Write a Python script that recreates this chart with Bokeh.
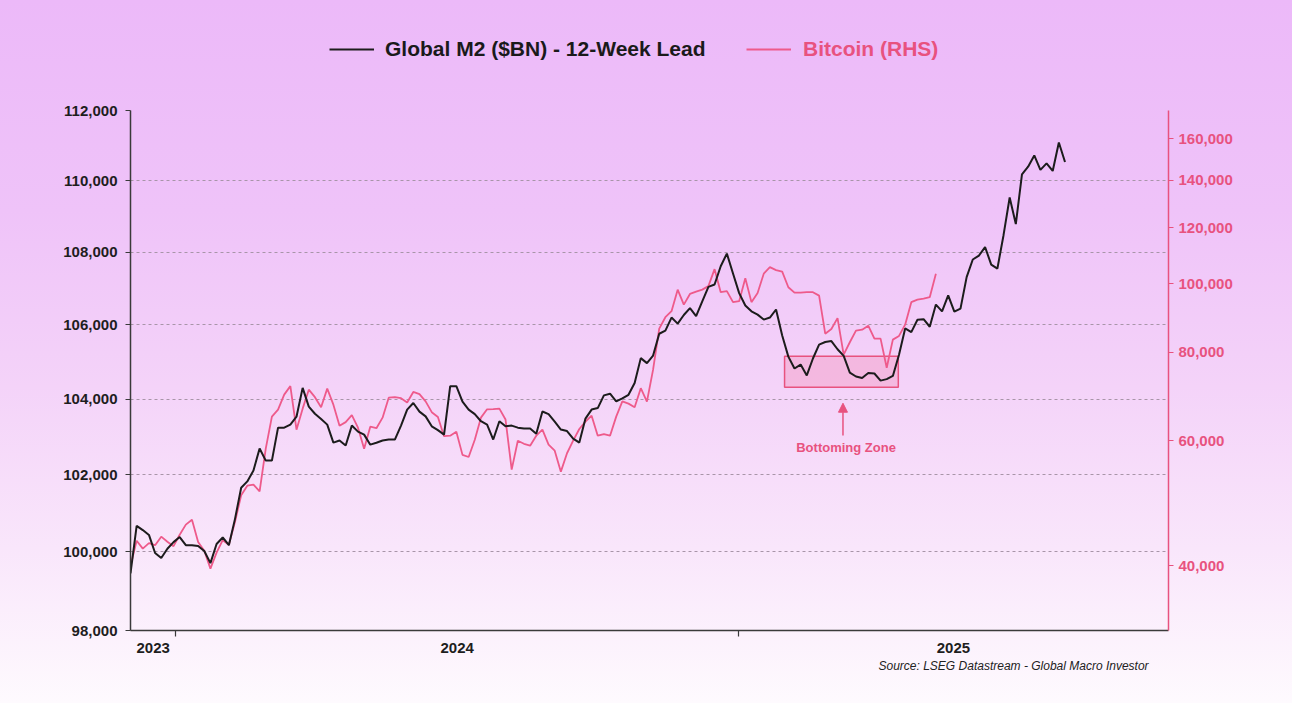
import pandas as pd
from bokeh.plotting import figure
from bokeh.layouts import column
from bokeh.models import (Range1d, LogScale, LogAxis, FixedTicker, NumeralTickFormatter,
                          Label, Arrow, NormalHead, ColumnDataSource, Legend, LegendItem,
                          Title)
from bokeh.embed import file_html
from bokeh.resources import INLINE

# ---------------- data ----------------
series_start = "2023-12-02 11:00"
series_step = "4D"

# Global M2 ($BN), shifted 12 weeks ahead
m2_values = [
    99450, 100670, 100560, 100435, 99970, 99840, 100080, 100250, 100380, 100170,
    100170, 100150, 100020, 99710, 100200, 100370, 100170, 100850, 101660, 101825,
    102110, 102690, 102370, 102370, 103240, 103240, 103320, 103530, 104300, 103800,
    103610, 103470, 103320, 102845, 102900, 102770, 103295, 103135, 103055, 102790,
    102840, 102900, 102925, 102925, 103295, 103720, 103895, 103665, 103540, 103275,
    103175, 103055, 104345, 104345, 103930, 103720, 103600, 103410, 103320, 102925,
    103410, 103275, 103295, 103240, 103215, 103215, 103080, 103670, 103600, 103400,
    103190, 103150, 102950, 102845, 103480, 103720, 103760, 104100, 104145, 103940,
    104020, 104115, 104430, 105100, 104965, 105170, 105760, 105845, 106200, 106035,
    106270, 106460, 106240, 106645, 107040, 107105, 107610, 107960, 107410, 106870,
    106530, 106370, 106280, 106145, 106200, 106420, 105710, 105140, 104820, 104925,
    104635, 105090, 105465, 105535, 105560, 105340, 105160, 104710, 104605, 104565,
    104700, 104685, 104495, 104535, 104620, 105190, 105905, 105805, 106140, 106155,
    105950, 106555, 106370, 106805, 106360, 106445, 107310, 107795, 107905, 108140,
    107655, 107545, 108470, 109525, 108780, 110180, 110395, 110715, 110305, 110490,
    110275, 111085, 110530,
]

# Bitcoin (USD, right-hand log scale)
btc_values = [
    40000, 43390, 42280, 43040, 42760, 43960, 43250, 42620, 44230, 45710,
    46450, 43200, 42000, 39620, 41730, 43460, 42830, 46140, 50300, 51880,
    52050, 50930, 58510, 64920, 66410, 69730, 71680, 62230, 66630, 70860,
    69160, 66950, 71100, 67500, 63040, 63770, 65230, 62640, 58510, 62840,
    62530, 64710, 69050, 69160, 68940, 67980, 70340, 69840, 68230, 65870,
    64850, 60930, 61030, 61830, 57340, 56940, 60240, 64710, 66480, 66510,
    66630, 64310, 54650, 60040, 59440, 59080, 61030, 62230, 59270, 58130,
    54300, 57640, 60040, 62370, 63870, 65120, 61030, 61330, 61030, 64920,
    68230, 67720, 66930, 71210, 68160, 75620, 86390, 89670, 91450, 98070,
    93410, 96710, 97430, 98070, 99190, 104820, 97270, 97590, 94170, 94470,
    101800, 94170, 97020, 103300, 105500, 104480, 103970, 98840, 97120, 97120,
    97310, 97270, 96180, 84990, 86290, 89390, 79400, 82670, 85840, 86120,
    87240, 83640, 83640, 76110, 83370, 84380, 87530, 94170, 94930, 95240,
    95710, 103300,
]

left_ticks = [98000, 100000, 102000, 104000, 106000, 108000, 110000, 112000]
right_ticks = [40000, 60000, 80000, 100000, 120000, 140000, 160000]
year_labels = ["2023", "2024", "2025"]
year_starts = ["2024-01-01", "2025-01-01"]

x_start = "2023-12-02 11:00"
x_end = "2025-10-07 19:00"

zone_start = "2025-01-31"
zone_end = "2025-04-15"
zone_low = 104320
zone_high = 105150

# --------------------------------------------------------------------------
def ms(s):
    return int(pd.Timestamp(s).value // 10**6)

m2_dates = pd.date_range(series_start, periods=len(m2_values), freq=series_step)
btc_dates = pd.date_range(series_start, periods=len(btc_values), freq=series_step)

BLACK = "#1c1c1c"
PINK = "#e8527f"
PINK_LINE = "#ee5a8b"
AXIS = "#3a3a3a"
FONT = "Liberation Sans"
W = 1292
TOP_H = 100

xs, xe = ms(x_start), ms(x_end)
bounds = [xs] + [ms(d) for d in year_starts] + [xe]
mids = [(bounds[i] + bounds[i + 1]) // 2 for i in range(len(bounds) - 1)]

# ---------------- legend strip (top) ----------------
top = figure(width=W, height=TOP_H, output_backend="svg", toolbar_location=None,
             x_range=Range1d(0, 1), y_range=Range1d(0, 1),
             min_border=0, min_border_left=0, min_border_right=0,
             min_border_top=0, min_border_bottom=0)
top.axis.visible = False
top.grid.visible = False
top.outline_line_color = None
top.background_fill_alpha = 0
top.border_fill_alpha = 0

# placeholder renderers (no visible points) that only feed the legend swatches
nan = float("nan")
leg_m2 = top.line(x=[nan], y=[nan], line_color=BLACK, line_width=2)
leg_btc = top.line(x=[nan], y=[nan], line_color=PINK_LINE, line_width=2)

def add_legend(label, rend, color, loc, standoff):
    lg = Legend(items=[LegendItem(label=label, renderers=[rend])], location=loc,
                orientation="horizontal", padding=0, margin=0, spacing=0,
                background_fill_alpha=0, border_line_color=None,
                glyph_width=45, glyph_height=20, label_height=20,
                label_standoff=standoff,
                label_text_font=FONT, label_text_font_style="bold",
                label_text_font_size="21px", label_text_color=color)
    top.add_layout(lg)

add_legend("Global M2 ($BN) - 12-Week Lead", leg_m2, "#1a1a1a", (199, 39), 11)
add_legend("Bitcoin (RHS)", leg_btc, PINK, (616, 39), 12)

# ---------------- main chart ----------------
p = figure(width=W, height=703 - TOP_H, output_backend="svg", toolbar_location=None,
           y_axis_type="log",
           x_range=Range1d(xs, xe), y_range=Range1d(left_ticks[0], left_ticks[-1]),
           min_border_left=130, min_border_right=124,
           min_border_top=10, min_border_bottom=73)

p.background_fill_alpha = 0
p.border_fill_alpha = 0
p.outline_line_color = None

p.extra_y_ranges = {"btc": Range1d(32410, 175500)}
p.extra_y_scales = {"btc": LogScale()}

p.xgrid.visible = False
p.ygrid.grid_line_color = "#a895a8"
p.ygrid.grid_line_dash = "3 3"
p.ygrid.grid_line_width = 1

p.yaxis.ticker = FixedTicker(ticks=left_ticks)
p.yaxis.formatter = NumeralTickFormatter(format="0,0")
p.yaxis.axis_line_color = AXIS
p.yaxis.axis_line_width = 1.5
p.yaxis.major_tick_line_color = AXIS
p.yaxis.major_tick_in = 0
p.yaxis.major_tick_out = 5
p.yaxis.minor_tick_line_color = None
p.yaxis.major_label_standoff = 8
p.yaxis.major_label_text_font = FONT
p.yaxis.major_label_text_font_style = "bold"
p.yaxis.major_label_text_font_size = "15px"
p.yaxis.major_label_text_color = "#1e1e1e"

p.xaxis.ticker = FixedTicker(ticks=mids, minor_ticks=bounds[1:-1])
p.xaxis.major_label_overrides = {m: lab for m, lab in zip(mids, year_labels)}
p.xaxis.axis_line_color = AXIS
p.xaxis.axis_line_width = 1.5
p.xaxis.major_tick_line_color = None
p.xaxis.major_tick_out = 5
p.xaxis.major_tick_in = 0
p.xaxis.minor_tick_line_color = AXIS
p.xaxis.minor_tick_line_width = 1.2
p.xaxis.minor_tick_in = 0
p.xaxis.minor_tick_out = 6
p.xaxis.major_label_standoff = 6
p.xaxis.major_label_text_font = FONT
p.xaxis.major_label_text_font_style = "bold"
p.xaxis.major_label_text_font_size = "15px"
p.xaxis.major_label_text_color = "#1e1e1e"

raxis = LogAxis(y_range_name="btc", ticker=FixedTicker(ticks=right_ticks),
                formatter=NumeralTickFormatter(format="0,0"))
raxis.axis_line_color = PINK
raxis.axis_line_width = 1.5
raxis.major_tick_line_color = PINK
raxis.major_tick_in = 0
raxis.major_tick_out = 5
raxis.minor_tick_line_color = None
raxis.major_label_standoff = 5
raxis.major_label_text_font = FONT
raxis.major_label_text_font_style = "bold"
raxis.major_label_text_font_size = "15px"
raxis.major_label_text_color = PINK
p.add_layout(raxis, "right")

# source note under the x axis
p.add_layout(Title(text="Source: LSEG Datastream - Global Macro Investor",
                   align="left", offset=748, standoff=2,
                   text_font=FONT, text_font_style="italic", text_font_size="12px",
                   text_color="#222222"), "below")

# bottoming zone box
p.quad(left=[ms(zone_start)], right=[ms(zone_end)], bottom=[zone_low], top=[zone_high],
       fill_color="#f39ac2", fill_alpha=0.45, line_color=PINK, line_width=1.5)

btc_src = ColumnDataSource(dict(date=btc_dates, value=btc_values))
m2_src = ColumnDataSource(dict(date=m2_dates, value=m2_values))

p.line("date", "value", source=btc_src, y_range_name="btc",
       line_color=PINK_LINE, line_width=1.8)
p.line("date", "value", source=m2_src, line_color=BLACK, line_width=2)

arrow_x = ms("2025-03-10")
p.add_layout(Arrow(end=NormalHead(size=9, fill_color=PINK, line_color=PINK),
                   x_start=arrow_x, y_start=103032, x_end=arrow_x, y_end=103890,
                   line_color=PINK, line_width=1.5))
p.add_layout(Label(x=ms("2025-03-12"), y=102715, text="Bottoming Zone",
                   text_align="center", text_baseline="middle",
                   text_font=FONT, text_font_style="bold", text_font_size="13px",
                   text_color=PINK))

layout = column(top, p, spacing=0,
                styles={"background": "linear-gradient(to bottom, #ecb9f9 0%, #efc3f9 30%, "
                                      "#f4d3f9 55%, #f9e6fb 78%, #fefafe 100%)"})

open("out.html", "w").write(file_html(layout, INLINE))
